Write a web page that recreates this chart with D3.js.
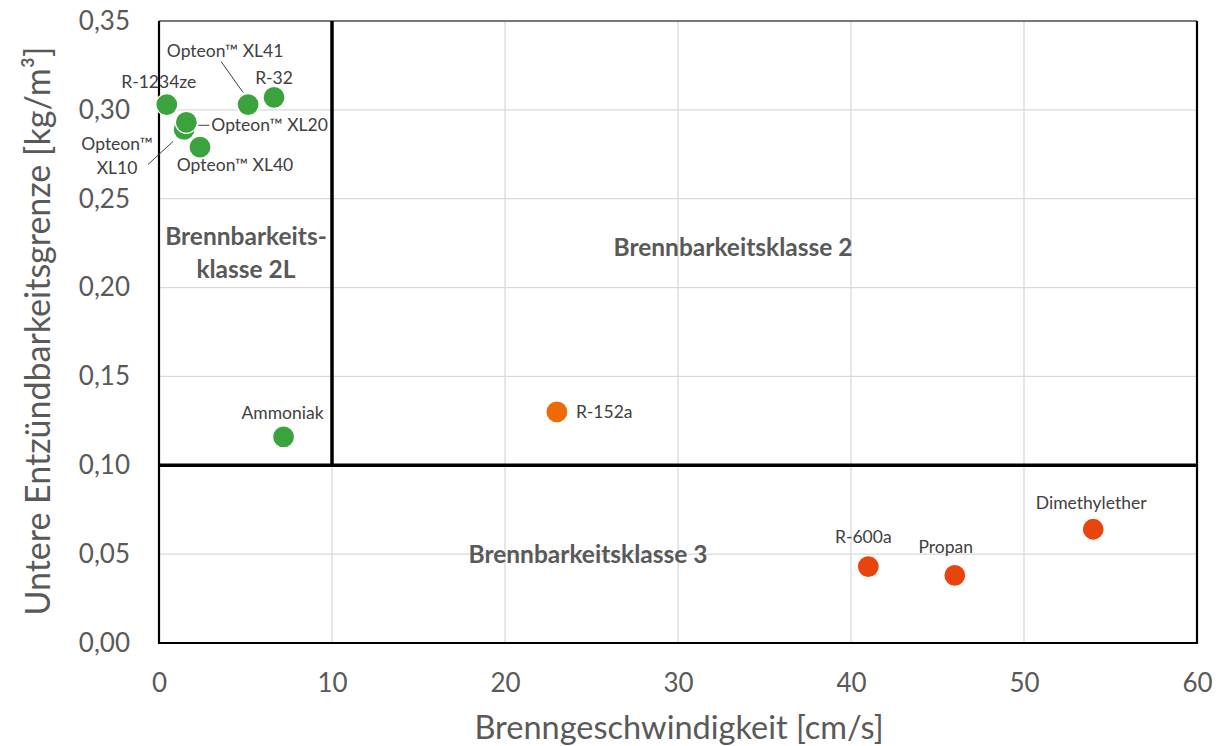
<!DOCTYPE html>
<html lang="de">
<head>
<meta charset="UTF-8">
<script src="https://d3js.org/d3.v7.min.js"></script>
<title>Brennbarkeit</title>
<style>
  body { margin: 0; background: #fff; }
  svg text { font-family: Lato, "Open Sans", sans-serif; }
</style>
</head>
<body>
<div id="app"></div>
<script>
// data
const names = ['R-1234ze', 'Opteon™ XL41', 'R-32', 'Opteon™ XL10', 'Opteon™ XL20', 'Opteon™ XL40',
               'Ammoniak', 'R-152a', 'R-600a', 'Propan', 'Dimethylether'];
const speed = [0.45, 5.15, 6.65, 1.45, 1.58, 2.37, 7.2, 23.0, 41.0, 46.0, 54.0];
const lfl   = [0.303, 0.303, 0.307, 0.289, 0.293, 0.279, 0.116, 0.130, 0.043, 0.038, 0.064];
const group = ['2L', '2L', '2L', '2L', '2L', '2L', '2L', '2', '3', '3', '3'];
const xTicks = [0, 10, 20, 30, 40, 50, 60];
const yTicks = [0, 0.05, 0.10, 0.15, 0.20, 0.25, 0.30, 0.35];
const classLimitX = 10;
const classLimitY = 0.10;

const colors = { '2L': '#3AA33D', '2': '#EE6A06', '3': '#E8440B' };

// label placement relative to the point
const labelPos = {
  'R-1234ze':      { dx: -8,  dy: -17, anchor: 'middle' },
  'Opteon™ XL41':  { dx: -23, dy: -48, anchor: 'middle', line: [-27, -43, -5, -12] },
  'R-32':          { dx: 0,   dy: -13, anchor: 'middle' },
  'Opteon™ XL10':  { dx: -67, dy: 21,  anchor: 'middle', two: true, line: [-36, 35, -11, 12] },
  'Opteon™ XL20':  { dx: 25,  dy: 9,   anchor: 'start', line: [12, 3, 23, 3] },
  'Opteon™ XL40':  { dx: 35,  dy: 24,  anchor: 'middle' },
  'Ammoniak':      { dx: -1,  dy: -18, anchor: 'middle' },
  'R-152a':        { dx: 19,  dy: 6,   anchor: 'start' },
  'R-600a':        { dx: -5,  dy: -24, anchor: 'middle' },
  'Propan':        { dx: -9,  dy: -22, anchor: 'middle' },
  'Dimethylether': { dx: -2,  dy: -20, anchor: 'middle' }
};

const width = 1230, height = 746;
const m = { left: 159, right: 33, top: 21, bottom: 103 };

const svg = d3.select('#app').append('svg')
  .attr('width', width).attr('height', height);

const x = d3.scaleLinear().domain([0, 60]).range([m.left, width - m.right]);
const y = d3.scaleLinear().domain([0, 0.35]).range([height - m.bottom, m.top]);

// grid
svg.append('g').selectAll('line').data(xTicks.slice(1, -1)).enter().append('line')
  .attr('x1', d => x(d)).attr('x2', d => x(d))
  .attr('y1', y(0)).attr('y2', y(0.35))
  .attr('stroke', '#d9d9d9').attr('stroke-width', 1.3);
svg.append('g').selectAll('line').data(yTicks.slice(1)).enter().append('line')
  .attr('x1', x(0)).attr('x2', x(60))
  .attr('y1', d => y(d)).attr('y2', d => y(d))
  .attr('stroke', '#d9d9d9').attr('stroke-width', 1.3);

// top border
svg.append('line')
  .attr('x1', x(0)).attr('x2', x(60)).attr('y1', y(0.35)).attr('y2', y(0.35))
  .attr('stroke', '#555').attr('stroke-width', 1.5);
// frame left/right/bottom
svg.append('path')
  .attr('d', `M${x(0)},${y(0.35)} V${y(0)} H${x(60)} V${y(0.35)}`)
  .attr('fill', 'none').attr('stroke', '#000').attr('stroke-width', 2.2);

// class limits
svg.append('line')
  .attr('x1', x(classLimitX)).attr('x2', x(classLimitX))
  .attr('y1', y(0.35)).attr('y2', y(classLimitY))
  .attr('stroke', '#000').attr('stroke-width', 3.5);
svg.append('line')
  .attr('x1', x(0)).attr('x2', x(60))
  .attr('y1', y(classLimitY)).attr('y2', y(classLimitY))
  .attr('stroke', '#000').attr('stroke-width', 3.5);

// axes (labels only)
const xAxis = d3.axisBottom(x).tickValues(xTicks).tickSize(0).tickPadding(0).tickFormat(d3.format('d'));
const gx = svg.append('g').attr('transform', `translate(0,${y(0)})`).call(xAxis);
gx.select('.domain').remove();
gx.selectAll('text').attr('y', 40).attr('dy', '0.35em')
  .attr('font-size', 26).attr('fill', '#595959').style('font-family', 'Lato, sans-serif');

const yAxis = d3.axisLeft(y).tickValues(yTicks).tickSize(0)
  .tickFormat(d => d3.format('.2f')(d).replace('.', ','));
const gy = svg.append('g').attr('transform', `translate(${x(0) - 29},0)`).call(yAxis);
gy.select('.domain').remove();
gy.selectAll('text').attr('x', 0)
  .attr('font-size', 26).attr('fill', '#595959').style('font-family', 'Lato, sans-serif');

// axis titles
svg.append('text')
  .attr('x', (x(0) + x(60)) / 2 + 1).attr('y', 739)
  .attr('text-anchor', 'middle').attr('font-size', 32.5).attr('fill', '#595959')
  .text('Brenngeschwindigkeit [cm/s]');
svg.append('text')
  .attr('transform', `translate(50,${(y(0) + y(0.35)) / 2 - 1}) rotate(-90)`)
  .attr('text-anchor', 'middle').attr('font-size', 34).attr('fill', '#595959')
  .text('Untere Entzündbarkeitsgrenze [kg/m³]');

// class labels
const cls = svg.append('g').attr('font-weight', 'bold').attr('font-size', 24.5)
  .attr('fill', '#595959').attr('text-anchor', 'middle');
cls.append('text').attr('x', 733).attr('y', 256).text('Brennbarkeitsklasse 2');
cls.append('text').attr('x', 246).attr('y', 245).text('Brennbarkeits-');
cls.append('text').attr('x', 246).attr('y', 278).text('klasse 2L');
cls.append('text').attr('x', 588).attr('y', 563).text('Brennbarkeitsklasse 3');

// points
const pts = names.map((n, i) => ({ name: n, sx: speed[i], ly: lfl[i], g: group[i] }));

svg.append('g').selectAll('circle').data(pts).enter().append('circle')
  .attr('cx', d => x(d.sx)).attr('cy', d => y(d.ly)).attr('r', 11)
  .attr('fill', d => colors[d.g])
  .attr('stroke', '#fff').attr('stroke-width', 1.2);

// leader lines + labels
const lab = svg.append('g').attr('font-size', 17.5).attr('fill', '#404040');
pts.forEach(d => {
  const p = labelPos[d.name];
  const cx = x(d.sx), cy = y(d.ly);
  if (p.line) {
    svg.append('line')
      .attr('x1', cx + p.line[0]).attr('y1', cy + p.line[1])
      .attr('x2', cx + p.line[2]).attr('y2', cy + p.line[3])
      .attr('stroke', '#404040').attr('stroke-width', 1);
  }
  const t = lab.append('text').attr('text-anchor', p.anchor)
    .attr('x', cx + p.dx).attr('y', cy + p.dy);
  if (p.two) {
    const parts = d.name.split(' ');
    t.append('tspan').attr('x', cx + p.dx).text(parts[0]);
    t.append('tspan').attr('x', cx + p.dx).attr('dy', 24).text(parts[1]);
  } else {
    t.text(d.name);
  }
});
</script>
</body>
</html>
